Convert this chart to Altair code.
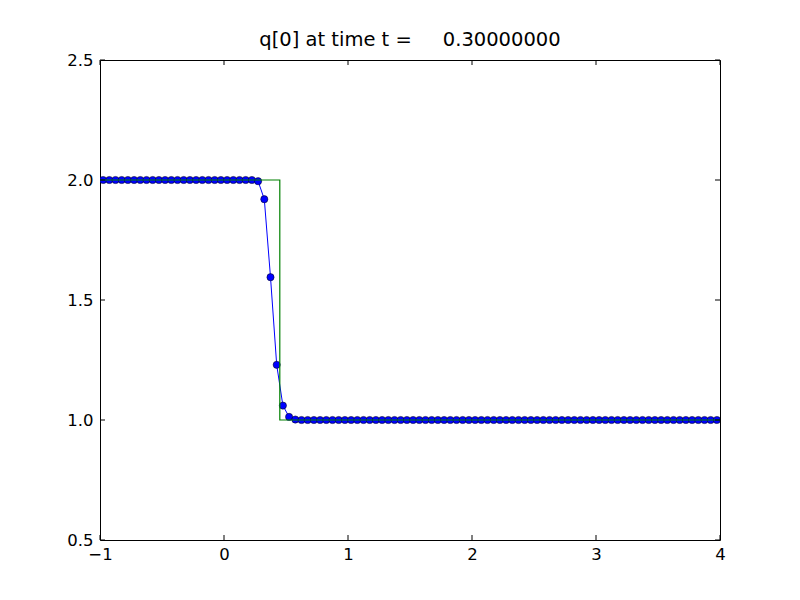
import altair as alt
import pandas as pd

# cell centers of a 100-cell grid on [-1, 4]
x_cells = [round(-0.975 + 0.05 * i, 3) for i in range(100)]
q_vals = ([2.0] * 25
          + [1.995, 1.92, 1.595, 1.23, 1.06, 1.013, 1.002]
          + [1.0] * 68)

exact_x = [-1.0, 0.45, 0.45, 4.0]
exact_q = [2.0, 2.0, 1.0, 1.0]

x_ticks = [-1, 0, 1, 2, 3, 4]
y_ticks = [0.5, 1.0, 1.5, 2.0, 2.5]

title_text = "q[0] at time t =" + "\u00a0" * 5 + "0.30000000"

num = pd.DataFrame({"x": x_cells, "q": q_vals})
exact = pd.DataFrame({"x": exact_x, "q": exact_q, "o": list(range(len(exact_x)))})
xt = pd.DataFrame({"t": x_ticks})
yt = pd.DataFrame({"t": y_ticks})

W, H = 620, 480
xs = alt.Scale(domain=[-1, 4], nice=False, zero=False)
ys = alt.Scale(domain=[0.5, 2.5], nice=False, zero=False)

xaxis = alt.Axis(values=x_ticks, format="d", ticks=False, tickSize=0, domain=False,
                 grid=False, labelPadding=6, labelFontSize=16.5, labelFont="DejaVu Sans",
                 labelColor="black", title=None, labelFlush=False)
yaxis = alt.Axis(values=y_ticks, format=".1f", ticks=False, tickSize=0, domain=False,
                 grid=False, labelPadding=7, labelFontSize=16.5, labelFont="DejaVu Sans",
                 labelColor="black", title=None)

base = alt.Chart(num)

line = base.mark_line(color="#0000ff", strokeWidth=1, clip=True).encode(
    x=alt.X("x:Q", scale=xs, axis=xaxis),
    y=alt.Y("q:Q", scale=ys, axis=yaxis),
)
pts = base.mark_point(filled=True, shape="circle", size=52, fill="#0000ff",
                      stroke="black", strokeWidth=0.5, opacity=1, clip=True).encode(
    x=alt.X("x:Q", scale=xs),
    y=alt.Y("q:Q", scale=ys),
)
ex = alt.Chart(exact).mark_line(color="#008000", strokeWidth=1.2, clip=True).encode(
    x=alt.X("x:Q", scale=xs),
    y=alt.Y("q:Q", scale=ys),
    order="o:Q",
)

tick_len = 5
xb = alt.Chart(xt).mark_rule(color="black", strokeWidth=1).encode(
    x=alt.X("t:Q", scale=xs), y=alt.value(H), y2=alt.value(H - tick_len))
xtp = alt.Chart(xt).mark_rule(color="black", strokeWidth=1).encode(
    x=alt.X("t:Q", scale=xs), y=alt.value(0), y2=alt.value(tick_len))
yl = alt.Chart(yt).mark_rule(color="black", strokeWidth=1).encode(
    y=alt.Y("t:Q", scale=ys), x=alt.value(0), x2=alt.value(tick_len))
yr = alt.Chart(yt).mark_rule(color="black", strokeWidth=1).encode(
    y=alt.Y("t:Q", scale=ys), x=alt.value(W), x2=alt.value(W - tick_len))

chart = alt.layer(line, pts, ex, xb, xtp, yl, yr).properties(
    width=W, height=H,
    title=alt.Title(title_text, fontSize=19.5, font="DejaVu Sans", fontWeight="normal",
                    color="black", offset=2, anchor="middle"),
    autosize=alt.AutoSizeParams(type="none"),
    padding={"left": 92, "top": 52, "right": 72, "bottom": 52},
    background="white",
).configure_view(stroke="black", strokeWidth=1)

chart.save("out.html", embed_options={"renderer": "svg", "actions": False})
